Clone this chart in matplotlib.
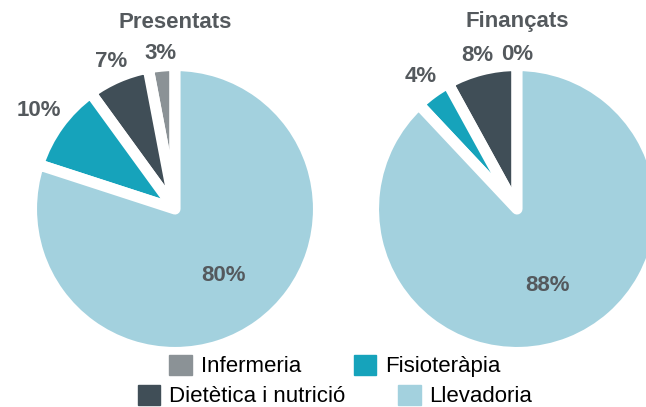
import numpy as np
import matplotlib.pyplot as plt

# data
categories = ["Infermeria", "Dietètica i nutrició", "Fisioteràpia", "Llevadoria"]
presentats = [3, 7, 10, 80]
financats = [0, 8, 4, 88]
titles = ["Presentats", "Finançats"]
colors = ["#8b9296", "#404e57", "#16a3bb", "#a3d1de"]
text_color = "#54595d"

plt.rcParams["font.family"] = ["Liberation Sans", "DejaVu Sans"]

W, H = 646, 407
fig = plt.figure(figsize=(W / 100, H / 100), dpi=100)

R = 143.5  # pie radius in px
centers = [(175, 209), (517, 209)]


def draw_pie(cx, cy, values, title):
    ax = fig.add_axes([(cx - R) / W, (H - cy - R) / H, 2 * R / W, 2 * R / H])
    wedges, _ = ax.pie(values, colors=colors, startangle=90, counterclock=True,
                       radius=1, wedgeprops=dict(edgecolor="white", linewidth=8,
                                                 joinstyle="round"))
    ax.set_xlim(-1, 1)
    ax.set_ylim(-1, 1)
    ax.set_aspect("equal")
    ax.axis("off")
    big = int(np.argmax(values))
    for i, (w, v) in enumerate(zip(wedges, values)):
        ang = np.deg2rad((w.theta1 + w.theta2) / 2)
        # outside labels pushed a bit further where the text sits sideways
        d = 0.57 if i == big else 1.08 + 0.11 * abs(np.cos(ang))
        ax.text(d * np.cos(ang), d * np.sin(ang), f"{v}%", ha="center", va="center",
                fontsize=16, fontweight="bold", color=text_color, clip_on=False)
    fig.text(cx / W, 1 - 22 / H, title, ha="center", va="center",
             fontsize=16, fontweight="bold", color=text_color)
    return wedges


draw_pie(*centers[0], presentats, titles[0])
draw_pie(*centers[1], financats, titles[1])

# legend: two rows, each centred on its own
rows = [[0, 2], [1, 3]]
row_y = [366, 396]
for row, y in zip(rows, row_y):
    handles = [plt.Rectangle((0, 0), 1, 1, color=colors[i]) for i in row]
    labels = [categories[i] for i in row]
    fig.legend(handles, labels, loc="center", bbox_to_anchor=(335 / W, 1 - y / H),
               ncol=2, frameon=False, fontsize=16, handlelength=1.0, handleheight=1.0,
               handletextpad=0.4, columnspacing=2.4, borderpad=0, borderaxespad=0)

fig.savefig("out.png", dpi=100)
